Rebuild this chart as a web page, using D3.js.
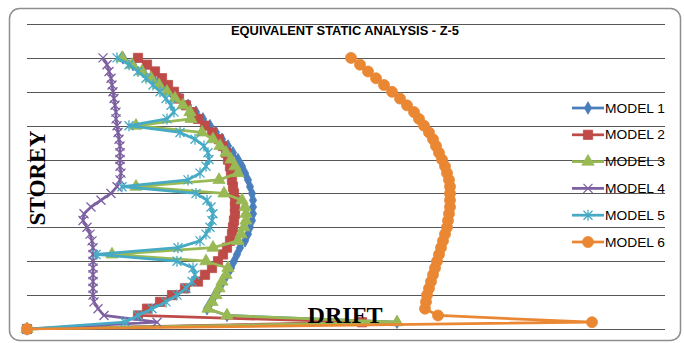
<!DOCTYPE html>
<html>
<head>
<meta charset="utf-8">
<script src="https://cdn.jsdelivr.net/npm/d3@7"></script>
<style>
    body { margin: 0; background: #fff; }
    svg { display: block; }
</style>
</head>
<body>
<svg id="chart"></svg>
<script>
// storey numbers (0 = base) and drift per storey for each model
const storeys = [0, 1, 2, 3, 4, 5, 6, 7, 8, 9, 10, 11, 12, 13, 14, 15, 16, 17, 18, 19, 20,
    21, 22, 23, 24, 25, 26, 27, 28, 29, 30, 31, 32, 33, 34, 35, 36, 37, 38, 39, 40];

const model1 = [0, 37.0, 20.0, 18.0, 18.4, 18.8, 19.2, 19.6, 20.0, 20.4, 20.7, 21.0, 21.3, 21.8, 22.1, 22.3,
    22.5, 22.6, 22.6, 22.6, 22.5, 22.3, 22.1, 21.8, 21.5, 21.1, 20.6, 20.1, 19.5, 18.9, 18.3, 17.6, 16.9,
    16.1, 15.3, 14.4, 13.5, 12.6, 11.6, 10.6, 9.6];
const model2 = [0, 33.5, 11.1, 12.0, 13.3, 14.5, 15.8, 17.1, 17.8, 18.5, 19.1, 19.6, 20.0, 20.3, 20.5, 20.6,
    20.7, 20.8, 20.8, 20.8, 20.7, 20.6, 20.5, 20.4, 20.3, 20.1, 19.9, 19.6, 19.2, 18.5, 17.8, 17.1, 16.5,
    15.9, 15.2, 14.7, 14.1, 13.5, 12.8, 12.0, 11.1];
const model3 = [0, 37.0, 20.0, 18.1, 18.5, 18.9, 19.2, 19.5, 19.9, 20.1, 17.9, 8.5, 18.6, 21.1, 21.4, 21.7,
    21.9, 21.9, 21.8, 21.5, 19.7, 10.9, 19.2, 21.1, 20.8, 20.4, 19.9, 19.3, 18.6, 17.5, 10.9, 16.4, 16.3,
    15.6, 14.8, 14.0, 13.2, 12.4, 11.5, 10.5, 9.5];
const model4 = [0, 13.0, 7.7, 7.1, 6.7, 6.6, 6.6, 6.6, 6.6, 6.6, 6.6, 6.6, 6.6, 6.5, 6.3, 6.0,
    5.6, 5.7, 6.4, 7.4, 8.4, 9.0, 9.3, 9.4, 9.3, 9.3, 9.3, 9.3, 9.2, 9.1, 9.0, 8.9, 8.9,
    8.8, 8.7, 8.6, 8.5, 8.4, 8.2, 8.0, 7.6];
const model5 = [0, 9.8, 11.1, 12.5, 13.9, 15.0, 15.9, 16.5, 16.8, 16.6, 15.0, 6.9, 15.1, 17.3, 17.9, 18.3,
    18.5, 18.6, 18.4, 18.0, 16.9, 9.5, 16.1, 17.3, 17.9, 18.2, 18.1, 17.7, 16.8, 15.3, 10.2, 14.0, 14.7,
    14.4, 13.9, 13.3, 12.6, 11.9, 11.1, 10.2, 9.0];
const model6 = [0, 56.5, 41.1, 39.8, 39.9, 40.0, 40.2, 40.4, 40.6, 40.8, 41.0, 41.2, 41.4, 41.6, 41.8, 42.0,
    42.1, 42.2, 42.3, 42.3, 42.3, 42.3, 42.2, 42.0, 41.8, 41.5, 41.2, 40.9, 40.6, 40.2, 39.7, 39.2, 38.7,
    38.0, 37.3, 36.5, 35.7, 34.9, 34.1, 33.3, 32.4];

const seriesNames = ['MODEL 1', 'MODEL 2', 'MODEL 3', 'MODEL 4', 'MODEL 5', 'MODEL 6'];
const seriesValues = [model1, model2, model3, model4, model5, model6];
const seriesColors = ['#4A7EBB', '#BE4B48', '#98B954', '#7D60A0', '#46AAC5', '#EA8733'];
const seriesMarkers = ['diamond', 'square', 'triangle', 'x', 'asterisk', 'circle'];

const W = 684, H = 343;
const plot = {left: 27, top: 24, width: 640, height: 305};

const svg = d3.select('#chart').attr('width', W).attr('height', H);

// chart frame
svg.append('rect')
    .attr('x', 9.5).attr('y', 8.5)
    .attr('width', 671).attr('height', 332)
    .attr('rx', 10)
    .attr('fill', '#fff')
    .attr('stroke', '#8e8e8e')
    .attr('stroke-width', 1.5);

const xScale = d3.scaleLinear().domain([0, 64]).range([plot.left, plot.left + plot.width]);
const yScale = d3.scaleLinear().domain([0, 45]).range([plot.top + plot.height, plot.top]);

// horizontal gridlines only
const grid = svg.append('g')
    .attr('class', 'grid')
    .attr('transform', `translate(${plot.left}, 0)`)
    .call(d3.axisLeft(yScale).ticks(9).tickSize(-(plot.width - 2)).tickFormat(''));
grid.select('.domain').remove();
grid.selectAll('line')
    .attr('stroke', '#575757')
    .attr('shape-rendering', 'crispEdges');

function markerPath(type) {
    switch (type) {
        case 'diamond': return d3.symbol(d3.symbolDiamond, 45)();
        case 'square': return d3.symbol(d3.symbolSquare, 85)();
        case 'triangle': return d3.symbol(d3.symbolTriangle, 65)();
        case 'circle': return d3.symbol(d3.symbolCircle, 95)();
        case 'x': return 'M-4.5,-4.5L4.5,4.5M-4.5,4.5L4.5,-4.5';
        case 'asterisk': return 'M-4.5,-4.5L4.5,4.5M-4.5,4.5L4.5,-4.5M0,-5.5L0,5.5';
    }
}
const strokedMarker = t => t === 'x' || t === 'asterisk';

const line = d3.line()
    .x(d => xScale(d.drift))
    .y(d => yScale(d.storey));

seriesValues.forEach((vals, i) => {
    const pts = vals.map((v, k) => ({storey: storeys[k], drift: v}));
    const g = svg.append('g').attr('class', 'series');
    g.append('path')
        .datum(pts)
        .attr('d', line)
        .attr('fill', 'none')
        .attr('stroke', seriesColors[i])
        .attr('stroke-width', 2.75)
        .attr('stroke-linejoin', 'round');
    g.selectAll('path.mk')
        .data(pts)
        .enter()
        .append('path')
        .attr('class', 'mk')
        .attr('transform', d => `translate(${xScale(d.drift)}, ${yScale(d.storey)})`)
        .attr('d', markerPath(seriesMarkers[i]))
        .attr('fill', strokedMarker(seriesMarkers[i]) ? 'none' : seriesColors[i])
        .attr('stroke', seriesColors[i])
        .attr('stroke-width', strokedMarker(seriesMarkers[i]) ? 1.3 : 0.8);
});

// title
svg.append('text')
    .attr('x', 345).attr('y', 34.5)
    .attr('text-anchor', 'middle')
    .attr('textLength', 228)
    .attr('lengthAdjust', 'spacingAndGlyphs')
    .style('font', 'bold 12.5px "Liberation Sans", Arial, sans-serif')
    .attr('fill', '#000')
    .text('EQUIVALENT STATIC ANALYSIS - Z-5');

// axis titles
svg.append('text')
    .attr('transform', 'translate(45, 178) rotate(-90)')
    .attr('text-anchor', 'middle')
    .attr('textLength', 95)
    .attr('lengthAdjust', 'spacingAndGlyphs')
    .style('font', 'bold 24px "Liberation Serif", "Times New Roman", serif')
    .text('STOREY');
svg.append('text')
    .attr('x', 345).attr('y', 323)
    .attr('text-anchor', 'middle')
    .attr('textLength', 75)
    .attr('lengthAdjust', 'spacingAndGlyphs')
    .style('font', 'bold 23px "Liberation Serif", "Times New Roman", serif')
    .text('DRIFT');

// legend
const legend = svg.append('g').attr('class', 'legend');
seriesNames.forEach((name, i) => {
    const y = 108 + i * 26.8;
    const t = seriesMarkers[i];
    legend.append('line')
        .attr('x1', 572).attr('x2', 604)
        .attr('y1', y).attr('y2', y)
        .attr('stroke', seriesColors[i])
        .attr('stroke-width', 2.75);
    legend.append('path')
        .attr('transform', `translate(588, ${y})`)
        .attr('d', markerPath(t))
        .attr('fill', strokedMarker(t) ? 'none' : seriesColors[i])
        .attr('stroke', seriesColors[i])
        .attr('stroke-width', strokedMarker(t) ? 1.3 : 0.8);
    legend.append('text')
        .attr('x', 605).attr('y', y + 4.5)
        .attr('textLength', 60)
        .attr('lengthAdjust', 'spacingAndGlyphs')
        .style('font', '12.5px "Liberation Sans", Arial, sans-serif')
        .attr('fill', '#000')
        .text(name);
});
</script>
</body>
</html>
